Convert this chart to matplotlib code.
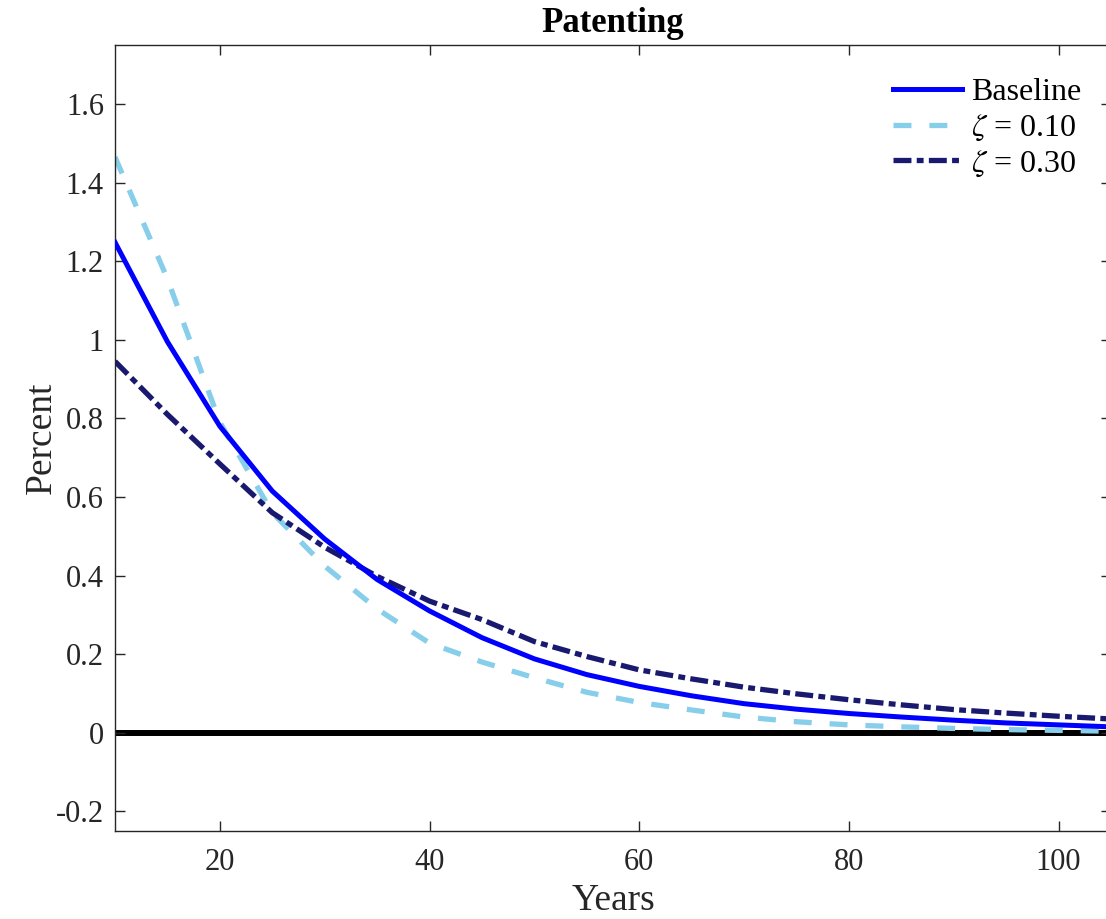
import matplotlib
matplotlib.use("Agg")
import matplotlib.pyplot as plt
from matplotlib.ticker import FuncFormatter

years = [10, 15, 20, 25, 30, 35, 40, 45, 50, 55, 60, 65, 70, 75, 80, 85, 90, 95, 100, 105]
baseline = [1.248, 0.995, 0.78, 0.615, 0.493, 0.39, 0.31, 0.242, 0.188, 0.148, 0.118,
            0.094, 0.074, 0.06, 0.049, 0.04, 0.032, 0.025, 0.02, 0.015]
zeta_010 = [1.465, 1.155, 0.79, 0.56, 0.424, 0.315, 0.228, 0.18, 0.14, 0.103, 0.077,
            0.058, 0.04, 0.028, 0.02, 0.015, 0.011, 0.008, 0.006, 0.004]
zeta_030 = [0.945, 0.81, 0.684, 0.56, 0.472, 0.398, 0.335, 0.288, 0.232, 0.194, 0.16,
            0.137, 0.116, 0.099, 0.084, 0.071, 0.059, 0.05, 0.042, 0.035]
labels = ["Baseline", r"$\zeta$ = 0.10", r"$\zeta$ = 0.30"]
xticks = [20, 40, 60, 80, 100]
yticks = [-0.2, 0, 0.2, 0.4, 0.6, 0.8, 1.0, 1.2, 1.4, 1.6]

plt.rcParams['font.family'] = ['Liberation Serif', 'DejaVu Serif']
plt.rcParams['mathtext.fontset'] = 'stix'

W, H = 1106, 919
fig = plt.figure(figsize=(W / 100, H / 100), dpi=100)
ax = fig.add_axes([115 / W, (H - 831) / H, (1111 - 115) / W, (831 - 45) / H])

ax.axhline(0, color='black', lw=4.3, zorder=1)
ax.plot(years, baseline, color='#0000FF', lw=3.6, label=labels[0], zorder=3)
ax.plot(years, zeta_010, color='#87CEEB', lw=3.8, dashes=(3.4, 3.4), dash_capstyle='butt',
        label=labels[1], zorder=2)
ax.plot(years, zeta_030, color='#191970', lw=3.8, dashes=(3.4, 1.0, 1.3, 1.0),
        dash_capstyle='butt', label=labels[2], zorder=2)

ax.set_xlim(10, 105)
ax.set_ylim(-0.25, 1.75)
ax.set_xticks(xticks)
ax.set_yticks(yticks)
ax.yaxis.set_major_formatter(FuncFormatter(lambda v, p: '%g' % round(v, 6)))

ax.tick_params(direction='in', length=7, width=1, colors='#262626', labelsize=22,
               top=True, right=True, pad=8)
ax.tick_params(axis='x', pad=12)
for s in ax.spines.values():
    s.set_color('#262626')
    s.set_linewidth(1)

ax.set_title('Patenting', fontsize=25, fontweight='bold', pad=9)
ax.set_xlabel('Years', fontsize=27, color='#262626', labelpad=5)
ax.set_ylabel('Percent', fontsize=27, color='#262626', labelpad=-2)

leg = ax.legend(loc='upper right', frameon=False, fontsize=23, handlelength=2.15,
                handletextpad=0.3, labelspacing=0.18, borderaxespad=0.3,
                bbox_to_anchor=(0.993, 0.987))

fig.savefig('out.png', dpi=100)
